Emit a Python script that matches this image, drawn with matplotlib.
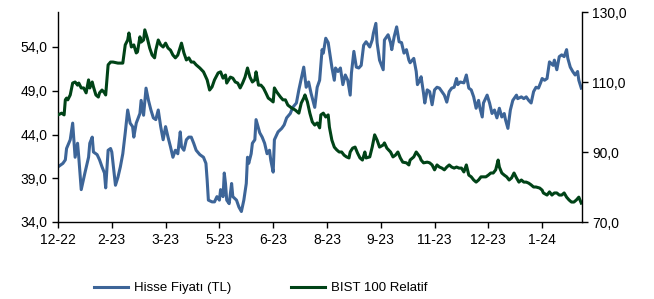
import matplotlib
matplotlib.use("Agg")
import matplotlib.pyplot as plt
import matplotlib.ticker as mticker
import pandas as pd

plt.rcParams['font.family'] = ['Liberation Sans', 'DejaVu Sans']

# gun sayisi (baslangic 30.12.2022) ve degerler
baslangic = pd.Timestamp("2022-12-30")

hisse_gun = [0, 4, 6, 7, 10, 12, 14, 16, 17, 19, 22, 25, 26, 28, 29, 32, 34, 36, 38, 39,
             41, 43, 44, 47, 49, 51, 53, 55, 57, 59, 61, 62, 64, 67, 68, 70, 72, 74, 76, 78,
             80, 82, 84, 86, 88, 90, 92, 94, 96, 98, 100, 101, 103, 105, 107, 109, 111, 113, 116, 119,
             121, 122, 123, 126, 128, 130, 132, 133, 135, 136, 137, 138, 140, 142, 143, 146, 148, 150, 152, 154,
             155, 156, 158, 159, 161, 162, 165, 167, 169, 171, 173, 174, 176, 177, 180, 183, 185, 187, 190, 192,
             195, 197, 199, 201, 203, 205, 207, 210, 212, 214, 216, 217, 219, 221, 224, 226, 227, 229, 231, 233,
             235, 237, 239, 240, 242, 244, 246, 248, 250, 252, 255, 257, 258, 260, 261, 263, 266, 267, 270, 272,
             273, 275, 277, 279, 281, 283, 285, 287, 288, 291, 293, 294, 296, 297, 299, 300, 302, 304, 306, 308,
             310, 312, 314, 316, 318, 320, 322, 324, 326, 327, 329, 332, 334, 336, 338, 340, 342, 344, 345, 347,
             348, 351, 353, 355, 357, 359, 361, 363, 365, 366, 368, 370, 372, 375, 376, 379, 381, 383, 385, 387,
             389, 391, 393, 395, 396, 398, 400, 402, 405, 406, 408, 410, 412, 414, 416, 417, 419, 421, 423, 425,
             426, 428]
hisse_fiyat = [40.3, 40.7, 41.1, 42.4, 43.4, 45.3, 41.4, 43.0, 41.4, 37.7, 39.6, 41.4, 43.0, 43.7, 42.0, 41.7, 41.1, 40.3, 39.6, 37.9,
               42.2, 42.4, 42.0, 38.2, 39.1, 40.3, 41.8, 44.2, 46.8, 45.3, 44.9, 43.7, 45.3, 46.4, 47.9, 46.2, 49.3, 47.9, 46.8, 45.9,
               45.7, 46.8, 44.9, 43.4, 44.9, 43.7, 42.6, 41.4, 42.2, 41.8, 44.3, 42.6, 42.2, 43.4, 43.7, 43.7, 43.0, 42.2, 41.7, 41.4,
               40.7, 38.8, 36.5, 36.3, 36.3, 36.9, 36.5, 37.7, 36.9, 39.6, 38.4, 36.5, 36.1, 38.4, 36.9, 36.5, 35.7, 35.2, 36.5, 38.4,
               41.4, 40.7, 41.8, 43.0, 43.4, 45.7, 44.2, 43.7, 43.0, 41.8, 42.2, 41.1, 39.7, 43.4, 44.3, 44.7, 45.1, 45.9, 46.4, 47.1,
               47.6, 49.1, 50.4, 51.7, 49.4, 50.0, 48.7, 47.1, 49.4, 50.2, 53.7, 53.3, 55.0, 54.5, 51.7, 50.2, 51.6, 51.2, 51.6, 49.7,
               50.8, 50.2, 48.5, 51.0, 53.5, 51.7, 51.6, 51.9, 54.2, 54.6, 54.0, 54.8, 55.6, 56.7, 54.5, 52.5, 51.4, 54.8, 55.4, 54.5,
               53.7, 55.2, 56.3, 54.6, 54.5, 53.3, 53.7, 52.5, 52.2, 52.7, 51.2, 49.7, 50.2, 50.6, 48.7, 47.6, 49.1, 48.9, 47.4, 49.1,
               49.4, 49.3, 48.9, 48.5, 47.7, 48.9, 49.3, 49.4, 50.4, 49.7, 50.0, 49.9, 50.8, 49.3, 49.1, 48.3, 47.0, 47.9, 47.1, 46.0,
               47.6, 48.5, 47.6, 46.4, 46.8, 45.9, 47.0, 46.0, 46.4, 45.7, 44.7, 46.8, 47.9, 48.5, 48.1, 48.3, 48.1, 48.3, 47.9, 47.6,
               48.9, 49.4, 49.3, 50.0, 50.4, 50.2, 50.4, 52.3, 51.9, 52.5, 51.4, 52.9, 53.1, 52.9, 53.7, 52.7, 51.7, 51.2, 50.8, 51.2,
               50.2, 49.3]

bist_gun = [0, 3, 5, 6, 7, 8, 10, 12, 14, 16, 17, 19, 21, 23, 25, 26, 28, 29, 31, 33,
            34, 36, 38, 39, 41, 43, 45, 49, 53, 55, 57, 58, 60, 62, 64, 65, 67, 68, 70, 71,
            73, 75, 77, 79, 80, 82, 84, 86, 88, 90, 92, 94, 96, 98, 100, 101, 103, 105, 107, 109,
            111, 113, 116, 119, 122, 124, 126, 128, 131, 133, 135, 137, 138, 141, 143, 145, 147, 149, 151, 153,
            155, 157, 159, 161, 162, 164, 166, 168, 170, 172, 174, 176, 177, 179, 182, 184, 186, 188, 191, 194,
            197, 199, 201, 202, 204, 206, 208, 210, 212, 214, 215, 217, 219, 221, 222, 224, 226, 228, 230, 232,
            234, 236, 238, 239, 241, 243, 245, 247, 249, 251, 252, 255, 257, 259, 261, 263, 266, 267, 269, 272,
            274, 276, 278, 280, 282, 285, 287, 288, 291, 293, 296, 297, 299, 302, 304, 306, 308, 310, 312, 314,
            316, 318, 320, 322, 324, 326, 328, 330, 332, 334, 336, 338, 340, 342, 344, 346, 348, 350, 352, 354,
            356, 358, 360, 361, 363, 365, 367, 369, 371, 373, 375, 377, 379, 381, 383, 385, 387, 389, 391, 394,
            396, 397, 400, 402, 404, 406, 408, 410, 412, 414, 416, 418, 420, 422, 424, 426, 428]
bist_relatif = [100.6, 101.1, 100.6, 104.9, 105.4, 104.9, 106.3, 109.7, 110.0, 109.1, 109.7, 108.3, 108.3, 106.9, 110.6, 108.3, 110.0, 108.6, 106.3, 105.7,
                106.9, 107.7, 106.9, 106.3, 114.9, 115.7, 115.7, 115.4, 115.4, 120.6, 122.0, 124.0, 120.0, 120.6, 118.3, 118.6, 122.9, 121.4, 122.0, 124.9,
                122.6, 119.7, 117.7, 116.9, 119.1, 122.0, 120.6, 120.0, 121.1, 119.7, 119.1, 117.7, 116.9, 117.7, 120.0, 121.1, 118.3, 116.3, 116.9, 115.7,
                115.7, 114.9, 114.0, 112.9, 110.6, 107.7, 108.6, 110.6, 112.6, 112.9, 111.1, 112.0, 109.7, 111.4, 111.1, 110.0, 109.7, 108.3, 109.7, 111.4,
                114.0, 111.4, 110.0, 110.6, 112.9, 109.1, 109.1, 108.3, 106.9, 105.4, 104.9, 104.3, 108.3, 107.1, 105.7, 104.9, 104.9, 103.4, 102.6, 102.0,
                101.1, 104.0, 105.4, 106.3, 104.3, 101.1, 98.6, 97.7, 98.3, 96.9, 100.6, 101.1, 100.0, 100.6, 97.1, 93.4, 91.4, 90.6, 90.0, 90.0,
                89.1, 88.6, 88.3, 90.0, 91.1, 91.4, 89.7, 88.3, 87.7, 90.0, 88.3, 88.6, 91.4, 94.9, 93.4, 91.4, 92.0, 92.6, 91.1, 90.0,
                88.6, 89.1, 90.0, 88.3, 87.1, 86.9, 86.3, 87.7, 88.6, 90.0, 88.6, 87.7, 86.9, 87.1, 86.9, 86.3, 84.9, 86.3, 85.7, 85.4,
                84.9, 85.7, 86.3, 85.7, 85.4, 85.7, 85.4, 85.4, 84.3, 86.3, 83.4, 82.9, 82.0, 81.4, 82.0, 82.9, 82.9, 82.9, 83.4, 84.0,
                84.0, 84.9, 87.7, 85.7, 84.0, 83.4, 82.9, 82.0, 82.6, 84.0, 82.6, 81.4, 82.0, 81.4, 81.4, 81.1, 80.6, 80.0, 80.0, 79.7,
                79.1, 78.3, 77.7, 78.6, 77.7, 78.3, 78.3, 77.7, 77.7, 78.3, 77.1, 76.3, 75.7, 75.7, 76.3, 77.1, 75.4]

tick_gun = [0, 44, 88, 132, 176, 220, 264, 308, 352, 396]
tick_etiket = ['12-22', '2-23', '3-23', '5-23', '6-23', '8-23', '9-23', '11-23', '12-23', '1-24']

MAVI = '#3D6598'
YESIL = '#004317'

hisse_tarih = [baslangic + pd.Timedelta(days=g) for g in hisse_gun]
bist_tarih = [baslangic + pd.Timedelta(days=g) for g in bist_gun]
tick_tarih = [baslangic + pd.Timedelta(days=g) for g in tick_gun]

fig = plt.figure(figsize=(6.54, 2.99), dpi=100)
ax = fig.add_axes([58/654, 1-222/299, 524/654, 210/299])
ax2 = ax.twinx()

l1, = ax.plot(hisse_tarih, hisse_fiyat, color=MAVI, lw=2.2, label='Hisse Fiyatı (TL)')
l2, = ax2.plot(bist_tarih, bist_relatif, color=YESIL, lw=2.2, label='BIST 100 Relatif')

ax.set_xlim(baslangic, baslangic + pd.Timedelta(days=428.6))
ax.set_ylim(34, 58)
ax2.set_ylim(70, 130)
ax.set_yticks([34, 39, 44, 49, 54])
ax2.set_yticks([70, 90, 110, 130])

virgul = mticker.FuncFormatter(lambda v, p: f"{v:.1f}".replace('.', ','))
ax.yaxis.set_major_formatter(virgul)
ax2.yaxis.set_major_formatter(virgul)

ax.set_xticks(tick_tarih)
ax.set_xticklabels(tick_etiket)

for a in (ax, ax2):
    a.spines['top'].set_visible(False)
    for s in a.spines.values():
        s.set_linewidth(1.0)
ax.spines['right'].set_visible(False)
ax2.spines['left'].set_visible(False)
ax2.spines['bottom'].set_visible(False)

ax.tick_params(axis='both', direction='out', length=4, width=1, labelsize=10, colors='black')
ax.tick_params(axis='x', pad=4)
ax2.tick_params(axis='y', direction='out', length=4, width=1, labelsize=10)

# iki ayri lejant: konumlar referanstaki gibi
ortak = dict(frameon=False, fontsize=9.5, handlelength=2.6, handletextpad=0.4,
             borderpad=0, borderaxespad=0, loc='center left')
fig.legend(handles=[l1], bbox_to_anchor=(94/654, 1-288/299), **ortak)
fig.legend(handles=[l2], bbox_to_anchor=(291/654, 1-288/299), **ortak)

fig.savefig('out.png', dpi=100)
